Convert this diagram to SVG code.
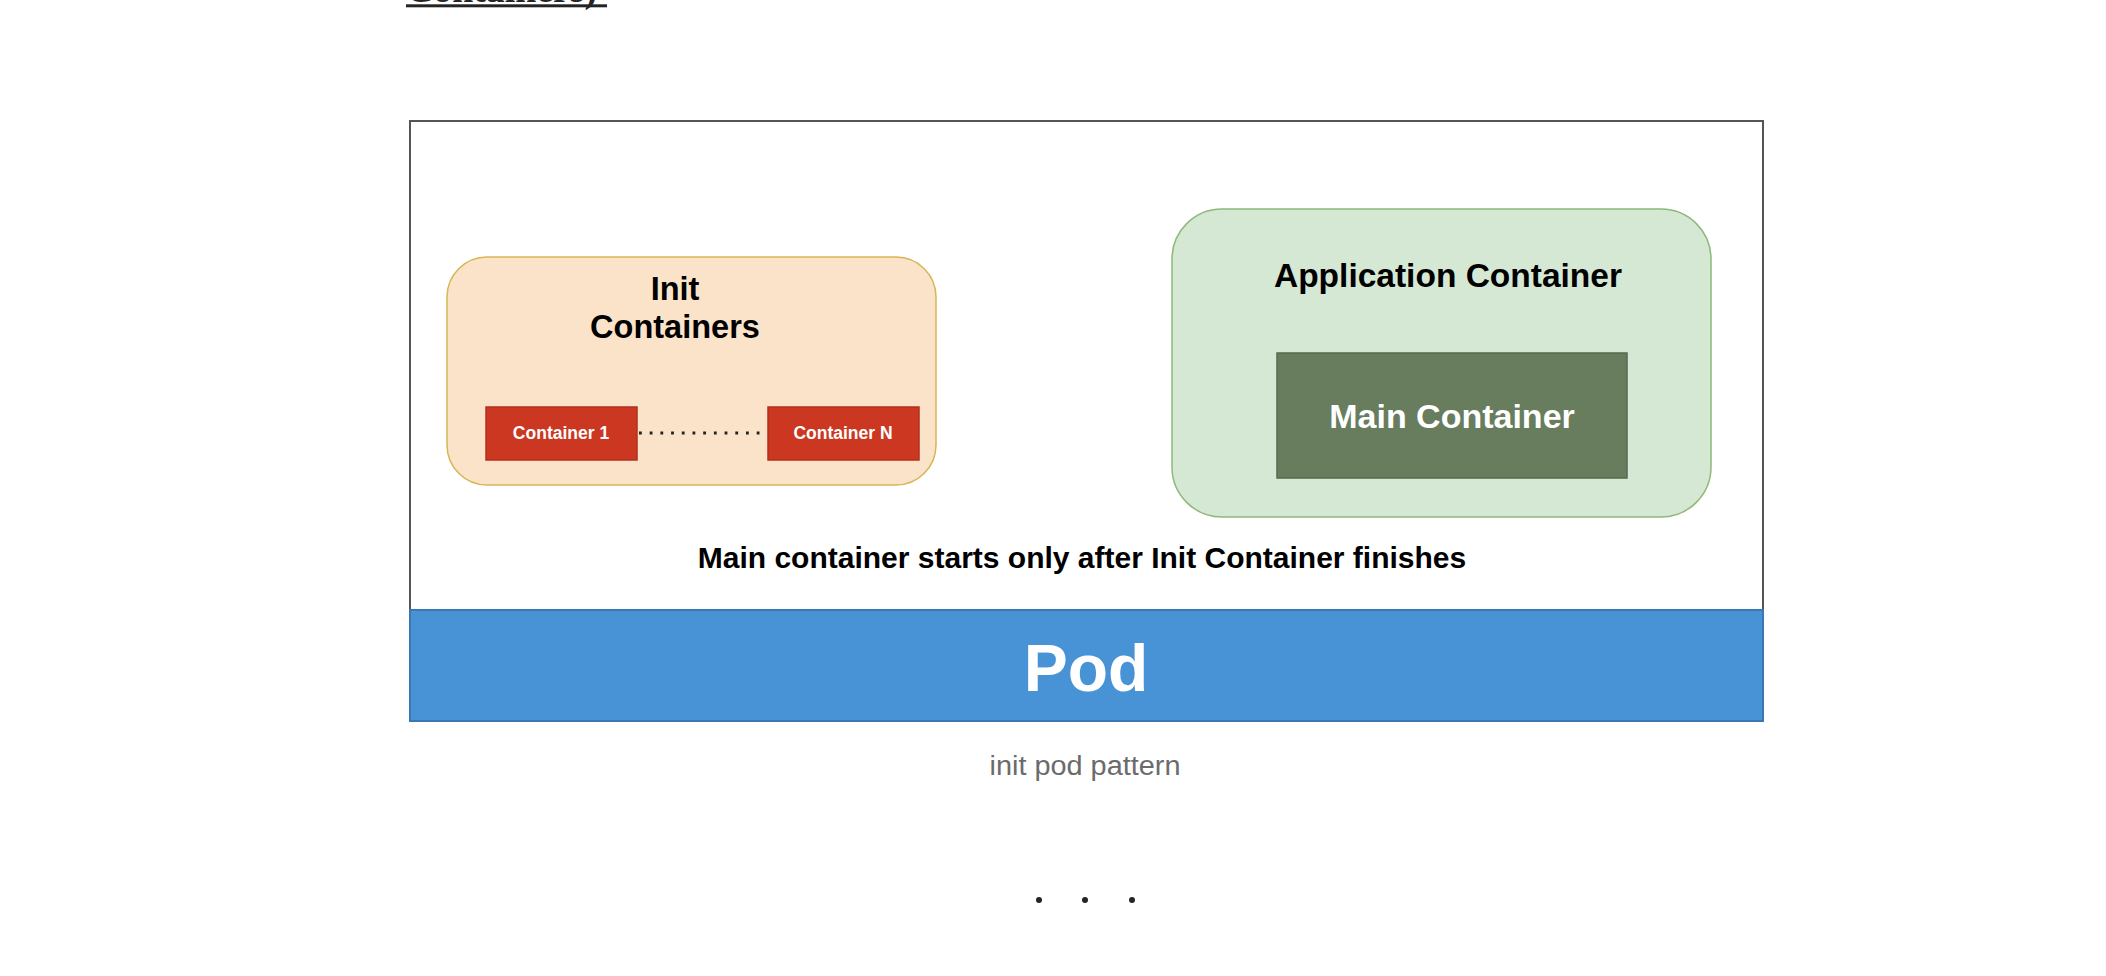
<svg xmlns="http://www.w3.org/2000/svg" width="2106" height="976" viewBox="0 0 2106 976">
  <style>
    .b { font-family: "Liberation Sans", Arial, sans-serif; font-weight: bold; text-anchor: middle; }
    .dark { fill: #000000; }
    .white { fill: #ffffff; }
    .red { fill: #cc3722; stroke: #b3301e; stroke-width: 1.5; }
  </style>
  <rect x="0" y="0" width="2106" height="976" fill="#ffffff"/>

  <g id="heading-fragment">
    <text x="406" y="2" font-family="'Liberation Serif', Georgia, serif" font-weight="bold" font-size="38" textLength="191" lengthAdjust="spacingAndGlyphs" fill="#242424">Containers)</text>
    <rect x="406" y="4.3" width="201" height="3" fill="#242424"/>
  </g>

  <g id="pod">
    <rect x="410" y="121" width="1353" height="600" fill="#ffffff" stroke="#555555" stroke-width="2"/>
    <rect x="410" y="610" width="1353" height="111" fill="#4793d6" stroke="#3c78b0" stroke-width="2"/>
    <text class="b white" x="1086" y="691" font-size="66">Pod</text>
  </g>

  <g id="init-containers">
    <rect x="447" y="257" width="489" height="228" rx="40" ry="40" fill="#fae3c9" stroke="#d6b656" stroke-width="1.5"/>
    <text class="b dark" x="675" y="300" font-size="32.5">Init</text>
    <text class="b dark" x="675" y="338" font-size="32.5">Containers</text>
  </g>

  <g id="container-1">
    <rect class="red" x="486" y="407" width="151" height="53"/>
    <text class="b white" x="561" y="439" font-size="17.5">Container 1</text>
  </g>

  <g id="container-n">
    <rect class="red" x="768" y="407" width="151" height="53"/>
    <text class="b white" x="843" y="439" font-size="17.5">Container N</text>
  </g>

  <g id="connectors">
    <line x1="639" y1="433" x2="766" y2="433" stroke="#222222" stroke-width="3" stroke-dasharray="2.8 7.9"/>
  </g>

  <g id="application-container">
    <rect x="1172" y="209" width="539" height="308" rx="50" ry="50" fill="#d5e8d4" stroke="#8fb87a" stroke-width="1.5"/>
    <text class="b dark" x="1448" y="287" font-size="33.5">Application Container</text>
  </g>

  <g id="main-container">
    <rect x="1277" y="353" width="350" height="125" fill="#687d5e" stroke="#55684c" stroke-width="1.5"/>
    <text class="b white" x="1452" y="428" font-size="34">Main Container</text>
  </g>

  <g id="note">
    <text class="b dark" x="1082" y="568" font-size="30">Main container starts only after Init Container finishes</text>
  </g>

  <g id="caption">
    <text x="1085" y="775" font-family="'Liberation Sans', Arial, sans-serif" font-size="27" text-anchor="middle" textLength="191" lengthAdjust="spacingAndGlyphs" fill="#6b6b6b">init pod pattern</text>
  </g>

  <g id="separator" fill="#242424">
    <circle cx="1039" cy="900" r="3"/>
    <circle cx="1085" cy="900" r="3"/>
    <circle cx="1132" cy="900" r="3"/>
  </g>
</svg>
